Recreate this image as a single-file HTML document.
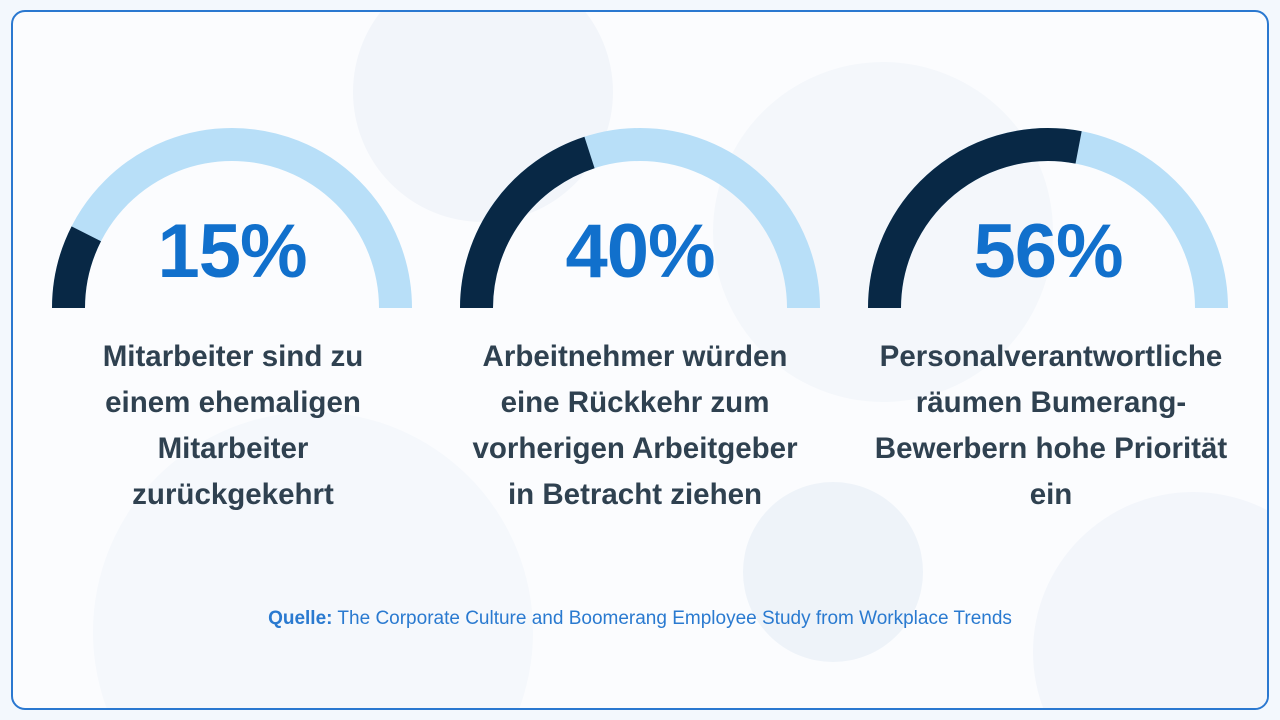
<!DOCTYPE html>
<html><head><meta charset="utf-8"><style>
html,body{margin:0;padding:0;width:1280px;height:720px;overflow:hidden;background:#f3f8fd;font-family:"Liberation Sans",sans-serif}
.card{position:absolute;left:11px;top:10px;width:1258px;height:700px;box-sizing:border-box;border:2px solid #2a78d0;border-radius:14px;background:#fbfcfe;overflow:hidden}
.pct{position:absolute;top:207px;width:360px;text-align:center;font-weight:bold;font-size:76px;color:#1170cc;line-height:90px;letter-spacing:-1px}
.cap{position:absolute;top:334px;width:440px;text-align:center;font-weight:bold;font-size:29.5px;line-height:46px;color:#2f4150}
.src{position:absolute;top:608px;left:0;width:1280px;text-align:center;font-size:19px;line-height:22px;color:#2a7ad0}
</style></head><body>
<div class="card">
<svg width="1254" height="696" style="position:absolute;left:0;top:0;display:block">
<circle cx="470" cy="80" r="130" fill="#f2f5fa"/>
<circle cx="870" cy="220" r="170" fill="#f4f7fb"/>
<circle cx="300" cy="620" r="220" fill="#f5f8fc"/>
<circle cx="1180" cy="640" r="160" fill="#f3f6fb"/>
<circle cx="820" cy="560" r="90" fill="#eef3f9"/>
</svg>
</div>
<svg width="1280" height="720" style="position:absolute;left:0;top:0;display:block">
<g fill="none" stroke-width="33">
<path d="M68.5 308 A163.5 163.5 0 0 1 395.5 308" stroke="#b8dff8"/>
<path d="M68.5 308 A163.5 163.5 0 0 1 86.3 233.8" stroke="#082845"/>
<path d="M476.5 308 A163.5 163.5 0 0 1 803.5 308" stroke="#b8dff8"/>
<path d="M476.5 308 A163.5 163.5 0 0 1 589.5 152.5" stroke="#082845"/>
<path d="M884.5 308 A163.5 163.5 0 0 1 1211.5 308" stroke="#b8dff8"/>
<path d="M884.5 308 A163.5 163.5 0 0 1 1078.6 147.4" stroke="#082845"/>
</g>
</svg>
<div class="pct" style="left:52px">15%</div>
<div class="pct" style="left:460px">40%</div>
<div class="pct" style="left:868px">56%</div>
<div class="cap" style="left:13px">Mitarbeiter sind zu<br>einem ehemaligen<br>Mitarbeiter<br>zurückgekehrt</div>
<div class="cap" style="left:415px">Arbeitnehmer würden<br>eine Rückkehr zum<br>vorherigen Arbeitgeber<br>in Betracht ziehen</div>
<div class="cap" style="left:831px">Personalverantwortliche<br>räumen Bumerang-<br>Bewerbern hohe Priorität<br>ein</div>
<div class="src"><b>Quelle:</b> The Corporate Culture and Boomerang Employee Study from Workplace Trends</div>
</body></html>
